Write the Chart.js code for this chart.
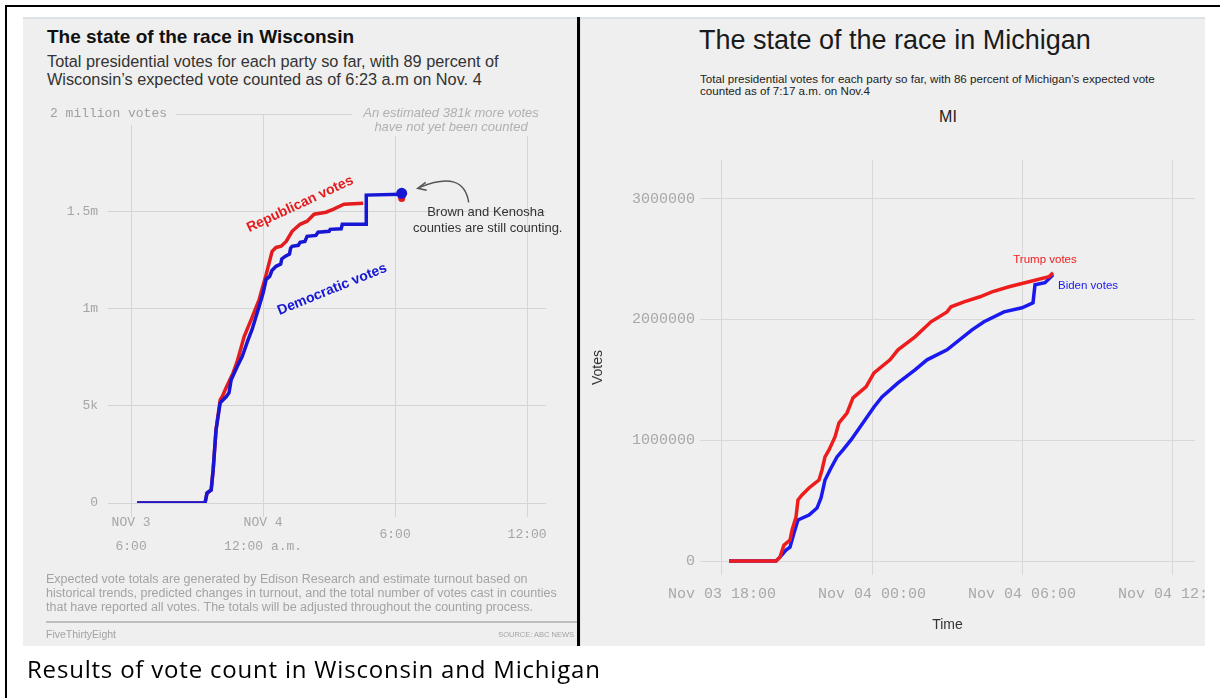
<!DOCTYPE html>
<html>
<head>
<meta charset="utf-8">
<script src="https://cdn.jsdelivr.net/npm/chart.js@4.4.0/dist/chart.umd.min.js"></script>
<style>
  body { margin: 0; width: 1220px; height: 698px; background: #fff; position: relative; overflow: hidden;
         font-family: "Liberation Sans", Arial, sans-serif; }
  .abs { position: absolute; }
  .frame-top { left: 5px; top: 5px; width: 1215px; height: 2px; background: #000; }
  .frame-left { left: 5px; top: 5px; width: 2px; height: 693px; background: #000; }
  .panel { top: 17px; height: 629px; background: #efefef; box-sizing: border-box; border-top: 2px solid #dde2e6; }
  .divider { left: 577px; top: 17px; width: 3px; height: 629px; background: #000; }
  canvas { position: absolute; }
  #wiTitle { left: 47px; top: 26px; font-weight: bold; font-size: 19px; color: #111; white-space: nowrap; }
  #wiSub { left: 47px; top: 52px; font-size: 16.3px; line-height: 18px; color: #333; white-space: nowrap; }
  #wiFoot { left: 46px; top: 572px; font-size: 12.5px; line-height: 14px; color: #a3a3a3; white-space: nowrap; }
  #wiRule { left: 46px; top: 621px; width: 531px; height: 2px; background: #bdbdbd; }
  #wiBrand { left: 46px; top: 628px; font-size: 10.5px; color: #a3a3a3; }
  #wiSource { right: 646px; top: 630px; font-size: 7.5px; color: #a3a3a3; }
  #miTitle { left: 699px; top: 25px; font-size: 27px; color: #1a1a1a; white-space: nowrap; }
  #miSub { left: 700px; top: 73px; font-size: 11.6px; line-height: 12px; color: #222; white-space: nowrap; }
  #miName { left: 900px; width: 96px; text-align: center; top: 108px; font-size: 16px; color: #222; }
  #caption { left: 27px; top: 652px; font-family: "Open Sans", sans-serif; font-size: 24px; letter-spacing: 0.8px;
             color: #000; white-space: nowrap; }
</style>
</head>
<body>
<div class="abs frame-top"></div>
<div class="abs frame-left"></div>
<div class="abs panel" style="left:23px;width:554px"></div>
<div class="abs panel" style="left:580px;width:625px;border-left:1px solid #e2e2e2"></div>
<div class="abs divider"></div>

<div class="abs" id="wiTitle">The state of the race in Wisconsin</div>
<div class="abs" id="wiSub">Total presidential votes for each party so far, with 89 percent of<br>Wisconsin’s expected vote counted as of 6:23 a.m on Nov. 4</div>
<canvas id="wiChart" width="554" height="629" style="left:23px;top:17px"></canvas>
<div class="abs" id="wiFoot">Expected vote totals are generated by Edison Research and estimate turnout based on<br>historical trends, predicted changes in turnout, and the total number of votes cast in counties<br>that have reported all votes. The totals will be adjusted throughout the counting process.</div>
<div class="abs" id="wiRule"></div>
<div class="abs" id="wiBrand">FiveThirtyEight</div>
<div class="abs" id="wiSource">SOURCE: ABC NEWS</div>

<div class="abs" id="miTitle">The state of the race in Michigan</div>
<div class="abs" id="miSub">Total presidential votes for each party so far, with 86 percent of Michigan’s expected vote<br>counted as of 7:17 a.m. on Nov.4</div>
<div class="abs" id="miName">MI</div>
<canvas id="miChart" width="625" height="629" style="left:580px;top:17px"></canvas>

<div class="abs" id="caption">Results of vote count in Wisconsin and Michigan</div>

<script>
// Wisconsin -- x is hours since Nov 3 00:00, y is votes
const wiDemHours = [18.27, 21.36, 21.45, 21.64, 21.73, 21.86, 22.05, 22.32, 22.45, 22.55, 22.82, 23.05, 23.32, 23.5,
  23.82, 24.0, 24.14, 24.3, 24.4, 24.59, 24.8, 24.85, 25.0, 25.2, 25.25, 25.32, 25.6, 25.68, 25.9, 26.0, 26.4, 26.5,
  27.0, 27.05, 27.55, 27.6, 28.68, 28.69, 30.27];
const wiDemVotes = [0, 0, 51000, 67000, 170000, 376000, 515000, 546000, 567000, 634000, 701000, 753000, 840000, 892000,
  1010000, 1080000, 1150000, 1165000, 1195000, 1217000, 1228000, 1255000, 1268000, 1280000, 1310000, 1320000, 1325000,
  1340000, 1345000, 1371000, 1376000, 1392000, 1397000, 1407000, 1410000, 1433000, 1433000, 1583000, 1588000];
const wiRepHours = [18.27, 21.36, 21.45, 21.64, 21.73, 21.86, 22.05, 22.14, 22.32, 22.64, 22.82, 23.14, 23.5, 23.82,
  24.14, 24.41, 24.59, 24.82, 25.05, 25.32, 25.68, 26.0, 26.32, 26.86, 27.18, 27.68, 28.55];
const wiRepVotes = [0, 0, 51000, 67000, 170000, 376000, 530000, 546000, 593000, 670000, 727000, 856000, 954000, 1046000,
  1175000, 1294000, 1314000, 1320000, 1345000, 1397000, 1433000, 1449000, 1485000, 1495000, 1510000, 1536000, 1541000];
const wiEndHours = [30.3];
const wiEndDem = [1592000];
const wiEndRep = [1566000];
const wiTicksX = [18, 24, 30, 36];
const wiTickLabelsX = [['NOV 3', '6:00'], ['NOV 4', '12:00 a.m.'], '6:00', '12:00'];
const wiTicksY = [0, 500000, 1000000, 1500000, 2000000];
const wiTickLabelsY = ['0', '5k', '1m', '1.5m', ''];

// Michigan
const miRepHours = [18.28, 20.16, 20.32, 20.48, 20.72, 20.8, 20.96, 21.04, 21.2, 21.48, 21.72, 21.88, 22.0, 22.12, 22.28,
  22.52, 22.68, 23.0, 23.24, 23.76, 24.08, 24.72, 25.04, 25.72, 26.36, 27.0, 27.16, 27.68, 28.32, 28.8, 29.48, 30.28,
  31.08, 31.24];
const miRepVotes = [0, 0, 33000, 133000, 174000, 257000, 365000, 506000, 547000, 605000, 646000, 671000, 754000, 862000,
  920000, 1028000, 1144000, 1226000, 1351000, 1442000, 1558000, 1666000, 1749000, 1856000, 1981000, 2063000, 2105000,
  2146000, 2188000, 2229000, 2271000, 2312000, 2354000, 2387000];
const miDemHours = [18.28, 20.16, 20.32, 20.56, 20.72, 20.88, 21.04, 21.48, 21.8, 21.96, 22.12, 22.36, 22.6, 22.84, 23.16,
  23.44, 24.08, 24.4, 25.04, 25.72, 26.2, 27.0, 28.0, 28.48, 29.28, 30.0, 30.44, 30.52, 30.92, 31.24];
const miDemVotes = [0, 0, 33000, 91000, 116000, 232000, 340000, 381000, 439000, 522000, 671000, 771000, 862000, 920000,
  1003000, 1086000, 1276000, 1359000, 1475000, 1583000, 1666000, 1749000, 1914000, 1981000, 2063000, 2097000, 2138000,
  2287000, 2304000, 2370000];
const miTicksX = [18, 24, 30, 36];
const miTickLabelsX = ['Nov 03 18:00', 'Nov 04 00:00', 'Nov 04 06:00', 'Nov 04 12:00'];
const miTicksY = [0, 1000000, 2000000, 3000000];

const wiRed = '#e31c1f';
const wiBlue = '#1616d4';
const miRed = '#ee1d1d';
const miBlue = '#1a1af0';
const panelBg = '#efefef';

function pts(xs, ys) {
  return xs.map((x, i) => ({ x: x, y: ys[i] }));
}

// keep the label overhang from shrinking the plot area
function noPad(s) {
  s.paddingLeft = 0; s.paddingRight = 0; s.paddingTop = 0; s.paddingBottom = 0;
}

// text boxes, arrow and rotated labels on the Wisconsin chart
const wiNotes = {
  id: 'wiNotes',
  beforeDatasetsDraw(chart) {
    const c = chart.ctx;
    const top = chart.scales.y.getPixelForValue(2000000);
    const right = chart.chartArea.right;
    c.save();
    c.fillStyle = panelBg;
    c.fillRect(23, top - 9, 130, 20);
    c.fillRect(right - 194, top - 10, 200, 32);
    c.textBaseline = 'middle';
    c.fillStyle = '#a0a0a0';
    c.font = '13px "Liberation Mono", monospace';
    c.textAlign = 'left';
    c.fillText('2 million votes', 27, top);
    c.font = 'italic 13px "Liberation Sans", Arial, sans-serif';
    c.fillStyle = '#b0b0b0';
    c.textAlign = 'center';
    c.fillText('An estimated 381k more votes', right - 95, top - 1);
    c.fillText('have not yet been counted', right - 95, top + 13);
    c.restore();
  },
  afterDatasetsDraw(chart) {
    const c = chart.ctx, xs = chart.scales.x, ys = chart.scales.y;
    const dx = xs.getPixelForValue(wiEndHours[0]), dy = ys.getPixelForValue(wiEndDem[0]);
    c.save();
    // curved arrow pointing at the last point
    c.strokeStyle = '#555';
    c.lineWidth = 1.5;
    c.beginPath();
    c.moveTo(dx + 67, dy + 9);
    c.quadraticCurveTo(dx + 62, dy - 24, dx + 18, dy - 6);
    c.stroke();
    c.beginPath();
    c.moveTo(dx + 24, dy - 11);
    c.lineTo(dx + 16, dy - 5);
    c.lineTo(dx + 25, dy - 3);
    c.stroke();
    c.fillStyle = '#333';
    c.font = '13px "Liberation Sans", Arial, sans-serif';
    c.textAlign = 'center';
    c.textBaseline = 'middle';
    c.fillText('Brown and Kenosha', dx + 84, dy + 19);
    c.fillText('counties are still counting.', dx + 86, dy + 35);
    // rotated series labels
    c.font = 'bold 14px "Liberation Sans", Arial, sans-serif';
    c.save();
    c.translate(xs.getPixelForValue(25.68), ys.getPixelForValue(1536000));
    c.rotate(-25 * Math.PI / 180);
    c.fillStyle = wiRed;
    c.fillText('Republican votes', 0, 0);
    c.restore();
    c.save();
    c.translate(xs.getPixelForValue(27.14), ys.getPixelForValue(1098000));
    c.rotate(-22 * Math.PI / 180);
    c.fillStyle = wiBlue;
    c.fillText('Democratic votes', 0, 0);
    c.restore();
    c.restore();
  }
};

new Chart(document.getElementById('wiChart'), {
  type: 'line',
  data: {
    datasets: [
      { label: 'dem end', data: pts(wiEndHours, wiEndDem), showLine: false, pointRadius: 5.5,
        pointBackgroundColor: wiBlue, pointBorderWidth: 0, order: 0 },
      { label: 'Democratic votes', data: pts(wiDemHours, wiDemVotes), borderColor: wiBlue, borderWidth: 3.5,
        pointRadius: 0, tension: 0, order: 1 },
      { label: 'rep end', data: pts(wiEndHours, wiEndRep), showLine: false, pointRadius: 3.5,
        pointBackgroundColor: wiRed, pointBorderWidth: 0, order: 2 },
      { label: 'Republican votes', data: pts(wiRepHours, wiRepVotes), borderColor: wiRed, borderWidth: 3.5,
        pointRadius: 0, tension: 0, order: 3 }
    ]
  },
  options: {
    responsive: false,
    animation: false,
    events: [],
    layout: { autoPadding: false, padding: { top: 97, right: 31, bottom: 0, left: 0 } },
    plugins: { legend: { display: false }, tooltip: { enabled: false } },
    scales: {
      x: {
        type: 'linear', min: 16.95, max: 36.86,
        afterBuildTicks: s => { s.ticks = wiTicksX.map(v => ({ value: v })); },
        afterFit: s => { s.height = 143; noPad(s); },
        grid: { color: '#d4d4d4', lineWidth: 1, drawTicks: true, tickLength: 14, tickColor: '#d4d4d4' },
        border: { display: false },
        ticks: {
          callback: v => wiTickLabelsX[wiTicksX.indexOf(v)],
          maxRotation: 0, autoSkip: false, padding: 6, crossAlign: 'center',
          color: '#a5a5a5', font: { family: '"Liberation Mono", monospace', size: 13, lineHeight: 1.8 }
        }
      },
      y: {
        min: 0, max: 2000000,
        afterBuildTicks: s => { s.ticks = wiTicksY.map(v => ({ value: v })); },
        afterFit: s => { s.width = 85; noPad(s); },
        grid: { color: '#d4d4d4', lineWidth: 1, drawTicks: false },
        border: { display: false },
        ticks: {
          callback: v => wiTickLabelsY[wiTicksY.indexOf(v)],
          padding: 10, color: '#a5a5a5', font: { family: '"Liberation Mono", monospace', size: 13 }
        }
      }
    }
  },
  plugins: [wiNotes]
});

// end labels on the Michigan chart
const miNotes = {
  id: 'miNotes',
  afterDatasetsDraw(chart) {
    const c = chart.ctx, xs = chart.scales.x, ys = chart.scales.y;
    const n = miRepHours.length - 1, m = miDemHours.length - 1;
    const rx = xs.getPixelForValue(miRepHours[n]), ry = ys.getPixelForValue(miRepVotes[n]);
    const bx = xs.getPixelForValue(miDemHours[m]), by = ys.getPixelForValue(miDemVotes[m]);
    c.save();
    c.font = '11.5px "Liberation Sans", Arial, sans-serif';
    c.textBaseline = 'middle';
    c.textAlign = 'center';
    c.fillStyle = miRed;
    c.fillText('Trump votes', rx - 8, ry - 13);
    c.textAlign = 'left';
    c.fillStyle = miBlue;
    c.fillText('Biden votes', bx + 5, by + 11);
    c.restore();
  }
};

new Chart(document.getElementById('miChart'), {
  type: 'line',
  data: {
    datasets: [
      { label: 'Trump votes', data: pts(miRepHours, miRepVotes), borderColor: miRed, borderWidth: 3.5,
        pointRadius: 0, tension: 0 },
      { label: 'Biden votes', data: pts(miDemHours, miDemVotes), borderColor: miBlue, borderWidth: 3.5,
        pointRadius: 0, tension: 0 }
    ]
  },
  options: {
    responsive: false,
    animation: false,
    events: [],
    layout: { autoPadding: false, padding: { top: 143, right: 10, bottom: 0, left: 0 } },
    plugins: { legend: { display: false }, tooltip: { enabled: false } },
    scales: {
      x: {
        type: 'linear', min: 17.12, max: 36.92,
        afterBuildTicks: s => { s.ticks = miTicksX.map(v => ({ value: v })); },
        afterFit: s => { s.height = 71; noPad(s); },
        grid: { color: '#d8d8d8', lineWidth: 1, drawTicks: false },
        border: { display: false },
        title: { display: true, text: 'Time', color: '#333', padding: { top: 0, bottom: 12 },
                 font: { family: '"Liberation Sans", Arial, sans-serif', size: 14 } },
        ticks: {
          callback: v => miTickLabelsX[miTicksX.indexOf(v)],
          maxRotation: 0, autoSkip: false, padding: 10,
          color: '#a8a8a8', font: { family: '"Liberation Mono", monospace', size: 15 }
        }
      },
      y: {
        min: -115000, max: 3320000,
        afterBuildTicks: s => { s.ticks = miTicksY.map(v => ({ value: v })); },
        afterFit: s => { s.width = 120; noPad(s); },
        grid: { color: '#d8d8d8', lineWidth: 1, drawTicks: false },
        border: { display: false },
        title: { display: true, text: 'Votes', color: '#333', padding: { top: 10, bottom: 0 },
                 font: { family: '"Liberation Sans", Arial, sans-serif', size: 14 } },
        ticks: {
          callback: v => String(v),
          padding: 5, color: '#a8a8a8', font: { family: '"Liberation Mono", monospace', size: 15 }
        }
      }
    }
  },
  plugins: [miNotes]
});
</script>
</body>
</html>
